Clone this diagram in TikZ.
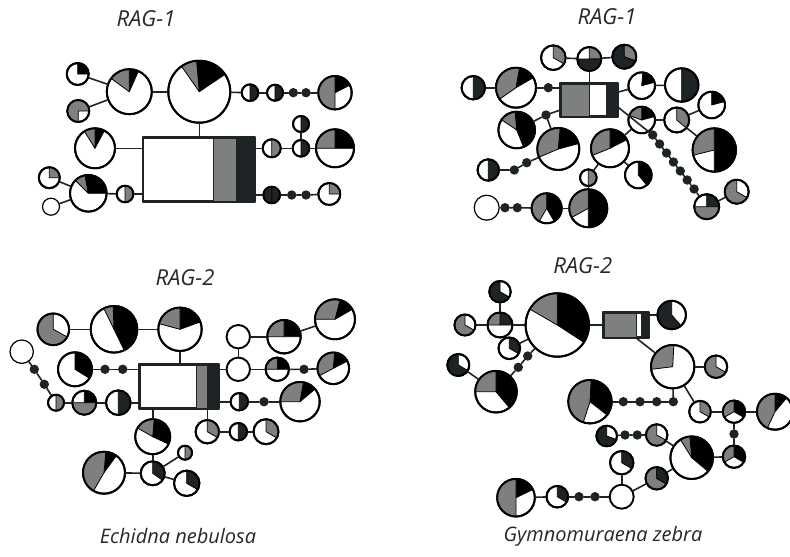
\documentclass[tikz,border=0pt]{standalone}
\usepackage{fontspec}
\newfontfamily\labelfont{Open Sans}
\definecolor{gry}{RGB}{126,128,128}
\definecolor{drk}{RGB}{30,36,37}
\definecolor{blk}{RGB}{0,0,0}
\definecolor{ink}{RGB}{40,40,40}
\tikzset{
  hap/.style={circle, draw=black, fill=white, inner sep=0pt, line width=1.9pt},
  hapthin/.style={hap, line width=1.2pt},
  snp/.style={circle, fill=drk, inner sep=0pt, minimum size=9.4pt},
  link/.style={drk, line width=1.6pt},
  hapbox/.style={rectangle, draw=drk, fill=white, inner sep=0pt, line width=1.7pt},
  gene/.style={font=\labelfont\itshape\fontsize{22}{26}\selectfont, text=ink},
  species/.style={font=\labelfont\itshape\fontsize{20}{24}\selectfont, text=ink},
}
% name, centre, radius, slices start/end/colour
\newcommand{\hap}[4]{%
  \node[hap, minimum size=2*#3pt] (#1) at (#2) {};
  \foreach \sa/\sb/\sc in {#4}
    \filldraw[fill=\sc, draw=black, line width=.8pt] (#1.center) -- ++(\sa:#3pt) arc[start angle=\sa, end angle=\sb, radius=#3pt] -- cycle;
  \draw[line width=1.9pt] (#1.center) circle[radius=#3pt];
}
\begin{document}
\begin{tikzpicture}[x=1pt, y=1pt, line join=round, line cap=round]
  \fill[white] (0,0) rectangle (790,-557);
  \useasboundingbox (0,0) rectangle (790,-557);

  % Echidna RAG-1
  \node[gene] (ta) at (146,-19) {RAG-1};
  \node[hapbox, minimum width=110.5pt, minimum height=63pt] (boxA) at (198.75,-169.5) {};
  \filldraw[fill=gry, draw=drk, line width=.8pt] (213.3,-138) rectangle (236.7,-201);
  \filldraw[fill=drk, draw=drk, line width=.8pt] (236.7,-138) rectangle (254,-201);
  \draw[drk, line width=1.7pt] (boxA.south west) rectangle (boxA.north east);
  \hap{a1}{77.7,-74}{11}{0/90/blk}
  \hap{a2}{78.3,-111}{11}{0/270/gry}
  \hap{a3}{129.3,-91.7}{22.5}{66/90/blk,90/144/gry}
  \hap{a4}{199.3,-91.7}{31}{34/95/blk,95/125/gry}
  \hap{a5}{95,-148.3}{20}{62/90/blk,90/122/gry}
  \hap{a6}{88.3,-193.3}{18.3}{0/101/blk,101/135/gry}
  \hap{a7}{49.3,-177.7}{10.5}{0/90/gry}
  \node[hapthin, minimum size=17pt] (a8) at (51,-206.7) {};
  \hap{a9}{125,-194}{8.3}{-90/90/gry}
  \hap{b1}{250,-92.7}{8.3}{-90/90/drk}
  \hap{b2}{275,-92.7}{8}{-90/90/drk}
  \node[snp] (ad1) at (293.3,-92.7) {};
  \node[snp] (ad2) at (306,-92.7) {};
  \hap{b3}{335,-92.7}{16.7}{27/90/blk,90/270/gry}
  \hap{b4}{271.7,-148.3}{9}{-90/90/gry}
  \hap{b5}{301,-148.3}{8.3}{-90/90/drk}
  \hap{b6}{301,-124}{8}{-90/90/drk}
  \hap{b7}{335,-148.3}{19}{0/90/blk,90/180/gry}
  \hap{b8}{271.7,-195}{8.3}{-90/90/drk,90/270/drk}
  \node[snp] (ad3) at (291.7,-195) {};
  \node[snp] (ad4) at (306,-195) {};
  \hap{b9}{329.3,-194}{11}{0/90/gry}
  \draw[link] (a1) -- (a3);
  \draw[link] (a2) -- (a3);
  \draw[link] (a3) -- (a4);
  \draw[link] (a4) -- (a4 |- boxA.north);
  \draw[link] (a5) -- (a5 -| boxA.west);
  \draw[link] (a7) -- (a6);
  \draw[link] (a8) -- (a6);
  \draw[link] (a6) -- (a9);
  \draw[link] (a9) -- (a9 -| boxA.west);
  \draw[link] (a4) -- (b1);
  \draw[link] (b1) -- (b2);
  \draw[link] (b2) -- (ad1) -- (ad2) -- (b3);
  \draw[link] (b4 -| boxA.east) -- (b4);
  \draw[link] (b4) -- (b5);
  \draw[link] (b5) -- (b6);
  \draw[link] (b5) -- (b7);
  \draw[link] (b8 -| boxA.east) -- (b8);
  \draw[link] (b8) -- (ad3) -- (ad4) -- (b9);

  % Gymnomuraena RAG-1
  \node[gene] (tc) at (607,-17) {RAG-1};
  \node[hapbox, minimum width=56pt, minimum height=32pt] (boxC) at (589,-100) {};
  \filldraw[fill=gry, draw=drk, line width=.8pt] (561,-84) rectangle (589.3,-116);
  \filldraw[fill=drk, draw=drk, line width=.8pt] (606.7,-84) rectangle (617,-116);
  \draw[drk, line width=1.7pt] (boxC.south west) rectangle (boxC.north east);
  \hap{c1}{553.3,-57.7}{12.3}{-30/90/gry}
  \hap{c2}{589.3,-59}{12}{0/90/gry,180/360/drk}
  \hap{c3}{624.3,-56.7}{12}{90/340/drk,-20/90/gry}
  \hap{c4}{473.3,-87.7}{11.7}{-90/90/drk}
  \hap{c5}{516,-87.7}{20}{30/80/blk,80/215/gry}
  \node[snp] (cd1) at (548.3,-87.7) {};
  \node[snp] (cd2) at (546,-115) {};
  \hap{c6}{516.7,-130}{18.3}{-68/95/blk,95/146/gry}
  \hap{c7}{558.3,-149}{21}{15/85/blk,85/203/gry}
  \hap{c8}{488.3,-170}{10.7}{-90/90/drk}
  \node[snp] (cd3) at (514.3,-170) {};
  \node[snp] (cd4) at (526.7,-162.7) {};
  \node[hapthin, minimum size=25pt] (c9) at (486.7,-207.7) {};
  \node[snp] (cd5) at (505,-207.7) {};
  \node[snp] (cd6) at (517.3,-207.7) {};
  \hap{c10}{546.7,-208.3}{15}{-60/90/blk,90/240/gry}
  \hap{c11}{588.3,-208.3}{19}{-90/90/blk,90/209/gry}
  \hap{c12}{588.3,-177.7}{8.3}{-90/90/gry}
  \hap{c13}{610,-148.3}{19}{27/90/blk,90/202/gry}
  \hap{c14}{641.7,-85.7}{13.3}{15/85/blk}
  \hap{c15}{681.7,-85}{16.7}{-90/90/drk}
  \hap{c16}{641.7,-120}{13.3}{15/90/blk,90/160/gry}
  \hap{c17}{676.7,-120}{12.5}{-40/90/gry}
  \hap{c18}{711.7,-105}{13.3}{15/90/blk}
  \hap{c19}{714.3,-150}{21.7}{-90/90/blk,90/194/gry}
  \hap{c20}{638.3,-175}{13.3}{-50/90/blk}
  \foreach \i in {1,...,7}
    \node[snp] (cc\i) at ({652.7+6.9*(\i-1)},{-135-9*(\i-1)}) {};
  \hap{c21}{706.7,-206.7}{12.5}{0/90/drk,180/360/gry}
  \hap{c22}{736.7,-191.7}{12}{90/330/gry}
  \draw[link] (c1) -- (c2);
  \draw[link] (c2) -- (c3);
  \draw[link] (c2) -- (c2 |- boxC.north);
  \draw[link] (c4) -- (c5);
  \draw[link] (c5) -- (cd1) -- (cd1 -| boxC.west);
  \draw[link] (cd2) -- (boxC);
  \draw[link] (cd2) -- (c6);
  \draw[link] (cd2) -- (c7);
  \draw[link] (c8) -- (cd3) -- (cd4) -- (c7);
  \draw[link] (c9) -- (cd5) -- (cd6) -- (c10);
  \draw[link] (c10) -- (c11);
  \draw[link] (c11) -- (c12);
  \draw[link] (c12) -- (c13);
  \draw[link] (boxC) -- (c14);
  \draw[link] (c14) -- (c15);
  \draw[link] (c13) -- (c16);
  \draw[link] (c13) -- (c20);
  \draw[link] (c16) -- (c17);
  \draw[link] (c17) -- (c18);
  \draw[link] (c17) -- (c19);
  \draw[link] ([yshift=-7pt]boxC.east) -- (cc1);
  \draw[link] (cc1) -- (cc7) -- (c21);
  \draw[link] (c21) -- (c22);

  % Echidna RAG-2
  \node[gene] (td) at (185,-278) {RAG-2};
  \node[hapbox, minimum width=78.3pt, minimum height=43.3pt] (boxD) at (179.15,-386.65) {};
  \filldraw[fill=gry, draw=drk, line width=.8pt] (196.7,-365) rectangle (207.3,-408.3);
  \filldraw[fill=drk, draw=drk, line width=.8pt] (207.3,-365) rectangle (218.3,-408.3);
  \draw[drk, line width=1.7pt] (boxD.south west) rectangle (boxD.north east);
  \hap{d1}{53.3,-329.3}{15.8}{90/331/gry}
  \hap{d2}{114,-329.3}{23.3}{-64/92/blk,92/116/gry}
  \hap{d3}{180,-329.3}{21.7}{20/90/blk,90/165/gry}
  \node[hapthin, minimum size=23.4pt] (d4) at (21.7,-351.7) {};
  \node[snp] (dd1) at (34.3,-369.3) {};
  \node[snp] (dd2) at (44.3,-384.3) {};
  \hap{d5}{56,-402.7}{8}{-90/90/gry}
  \hap{d6}{84.3,-402.7}{12}{0/90/blk,180/360/gry}
  \hap{d7}{118.3,-402.7}{12.3}{-90/90/drk}
  \hap{d8}{75,-369.3}{17}{-32/90/blk}
  \node[snp] (dd3) at (105,-369.3) {};
  \node[snp] (dd4) at (122.7,-369.3) {};
  \hap{d9}{152.7,-436.7}{17.5}{-25/85/blk,85/150/gry}
  \hap{d10}{104,-472.7}{21}{54/85/blk,85/240/gry}
  \hap{d11}{152.7,-473.3}{12}{-35/90/drk}
  \hap{d12}{185,-452.7}{7}{-90/90/gry}
  \hap{d13}{186.7,-483.3}{12.7}{-30/90/drk}
  \node[hap, minimum size=23.4pt] (d14) at (238.3,-336.7) {};
  \node[hap, minimum size=23.4pt] (d15) at (238.3,-369.3) {};
  \hap{d16}{284,-336.7}{16.7}{0/90/blk,90/180/gry}
  \hap{d17}{335,-319.3}{20}{30/75/blk,75/180/gry}
  \hap{d18}{277.3,-369.3}{11.7}{0/90/blk,90/180/gry}
  \node[snp] (dd5) at (304,-369.3) {};
  \hap{d19}{333.3,-368.3}{15.8}{27/85/blk,85/208/gry}
  \hap{d20}{239.3,-401.7}{8.7}{-90/90/drk}
  \node[snp] (dd6) at (264,-401.7) {};
  \hap{d21}{300,-401.7}{19.7}{40/80/blk,80/180/gry}
  \hap{d22}{207.3,-431.7}{11.7}{-30/90/gry}
  \hap{d23}{238.3,-431.7}{8.7}{-90/90/drk}
  \hap{d24}{266,-431.7}{12.5}{-30/90/gry}
  \draw[link] (d1) -- (d2);
  \draw[link] (d2) -- (d3);
  \draw[link] (d3) -- (d3 |- boxD.north);
  \draw[link] (d4) -- (dd1) -- (dd2) -- (d5);
  \draw[link] (d5) -- (d6);
  \draw[link] (d6) -- (d7);
  \draw[link] (d7) -- (d7 -| boxD.west);
  \draw[link] (d8) -- (dd3) -- (dd4) -- (dd4 -| boxD.west);
  \draw[link] (d9 |- boxD.south) -- (d9);
  \draw[link] (d9) -- (d11);
  \draw[link] (d10) -- (d11);
  \draw[link] (d11) -- (d12);
  \draw[link] (d11) -- (d13);
  \draw[link] (d14) -- (d15);
  \draw[link] (d15 -| boxD.east) -- (d15);
  \draw[link] (d14) -- (d16);
  \draw[link] (d16) -- (d17);
  \draw[link] (d15) -- (d18);
  \draw[link] (d18) -- (dd5) -- (d19);
  \draw[link] (d20 -| boxD.east) -- (d20);
  \draw[link] (d20) -- (dd6) -- (d21);
  \draw[link] (d22 |- boxD.south) -- (d22);
  \draw[link] (d22) -- (d23);
  \draw[link] (d23) -- (d24);

  % Gymnomuraena RAG-2
  \node[gene] (te) at (582.7,-266) {RAG-2};
  \node[hapbox, minimum width=44pt, minimum height=24pt] (boxE) at (626,-325) {};
  \filldraw[fill=gry, draw=drk, line width=.8pt] (604,-313) rectangle (636.5,-337);
  \filldraw[fill=drk, draw=drk, line width=.8pt] (641.5,-313) rectangle (648,-337);
  \draw[drk, line width=1.7pt] (boxE.south west) rectangle (boxE.north east);
  \hap{e1}{557.3,-325}{31.7}{-33/90/blk,90/150/gry}
  \hap{e2}{671.7,-315}{14.2}{90/311/drk}
  \hap{e3}{672.7,-366.7}{21.7}{87/187/gry}
  \hap{e4}{716,-366.7}{11.2}{90/330/gry}
  \hap{e5}{700,-411.7}{10.8}{-30/90/gry}
  \hap{e6}{734,-411.7}{11.2}{-30/90/blk,90/210/gry}
  \hap{e7}{775,-411.7}{18}{50/90/blk,90/245/gry}
  \node[snp] (ed1) at (734,-434) {};
  \hap{e8}{734,-456.7}{11.2}{-30/90/blk,90/210/gry}
  \hap{e9}{691.7,-457.7}{21.3}{-40/95/blk,95/122/gry}
  \node[snp] (ed2) at (673.3,-401.7) {};
  \node[snp] (ed3) at (656.7,-401.7) {};
  \node[snp] (ed4) at (640,-401.7) {};
  \node[snp] (ed5) at (623.3,-401.7) {};
  \hap{e10}{590,-401.7}{21.7}{-38/87/blk,87/252/gry}
  \hap{e11}{606.7,-436}{10.3}{90/340/drk}
  \node[snp] (ed6) at (625,-435) {};
  \node[snp] (ed7) at (637.3,-435) {};
  \hap{e12}{656.7,-435}{10.7}{90/330/gry}
  \hap{e13}{621.7,-462.7}{11.7}{-30/90/drk}
  \node[hap, minimum size=24pt] (e14) at (621.7,-496.7) {};
  \hap{e15}{656.7,-478.3}{11.2}{90/330/gry,-30/90/drk}
  \node[snp] (ed8) at (595,-496.7) {};
  \node[snp] (ed9) at (579,-496.7) {};
  \hap{e16}{557.3,-496.7}{10.8}{-30/90/drk}
  \hap{e17}{516,-497.7}{18.8}{26/90/blk,90/270/gry}
  \hap{e18}{500,-325}{12.5}{0/90/drk,90/180/gry}
  \hap{e19}{500,-291.7}{10.7}{90/330/drk}
  \hap{e20}{465,-325}{10.5}{90/330/gry}
  \hap{e21}{509.3,-348.3}{10.8}{-30/90/drk}
  \node[snp] (ed10) at (527.7,-356) {};
  \node[snp] (ed11) at (518.3,-367.3) {};
  \hap{e22}{496,-391.7}{20.8}{-50/90/blk,90/180/gry}
  \hap{e23}{458.3,-365}{11}{90/330/drk}
  \draw[link] (e1) -- (boxE);
  \draw[link] (e2 -| boxE.east) -- (e2);
  \draw[link] ([xshift=10pt]boxE.south) -- (e3);
  \draw[link] (e3) -- (e4);
  \draw[link] (e3) -- (e5);
  \draw[link] (e5) -- (e6);
  \draw[link] (e6) -- (e7);
  \draw[link] (e6) -- (ed1) -- (e8);
  \draw[link] (e8) -- (e9);
  \draw[link] (e3) -- (ed2);
  \draw[link] (ed2) -- (ed5) -- (e10);
  \draw[link] (e11) -- (ed6) -- (ed7) -- (e12);
  \draw[link] (e12) -- (e9);
  \draw[link] (e13) -- (e14);
  \draw[link] (e14) -- (e15);
  \draw[link] (e15) -- (e9);
  \draw[link] (e17) -- (e16);
  \draw[link] (e16) -- (ed9) -- (ed8) -- (e14);
  \draw[link] (e20) -- (e18);
  \draw[link] (e18) -- (e1);
  \draw[link] (e19) -- (e18);
  \draw[link] (e21) -- (e1);
  \draw[link] (e1) -- (ed10) -- (ed11) -- (e22);
  \draw[link] (e23) -- (e22);

  \node[species] (sa) at (178,-536) {Echidna nebulosa};
  \node[species] (sb) at (603,-536) {Gymnomuraena zebra};
\end{tikzpicture}
\end{document}
